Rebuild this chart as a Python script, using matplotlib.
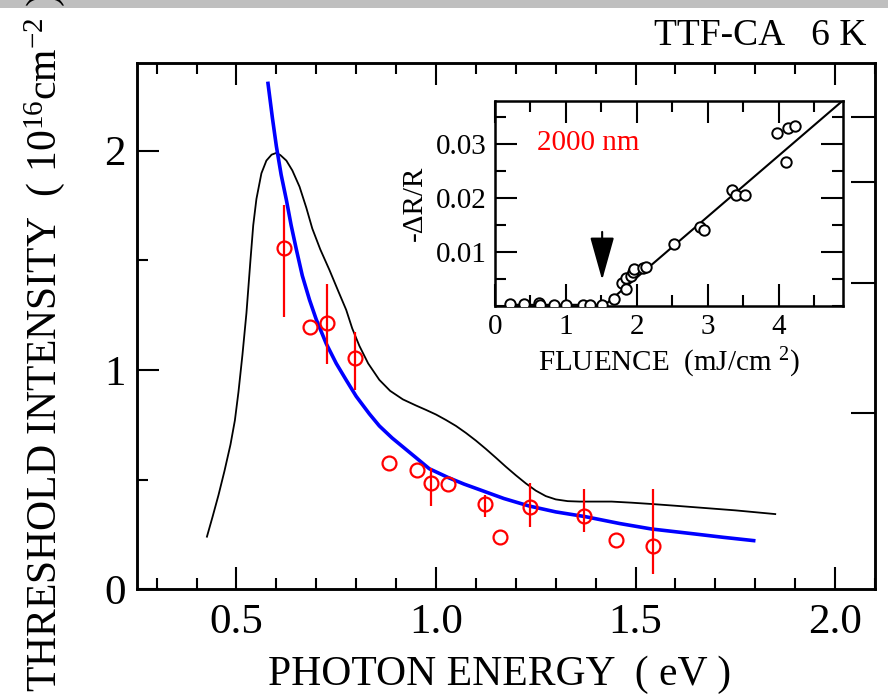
import numpy as np
import matplotlib
matplotlib.use("Agg")
import matplotlib.pyplot as plt
from matplotlib.ticker import MultipleLocator, FixedLocator, NullFormatter
from matplotlib.patches import Rectangle

plt.rcParams['font.family'] = ['Liberation Serif', 'DejaVu Serif']
plt.rcParams['mathtext.fontset'] = 'custom'
plt.rcParams['mathtext.rm'] = 'Liberation Serif'
plt.rcParams['mathtext.it'] = 'Liberation Serif:italic'
plt.rcParams['axes.unicode_minus'] = False

# ---------------- main panel data ----------------
theory_x = [0.426, 0.44, 0.455, 0.47, 0.485, 0.496, 0.505, 0.515, 0.525, 0.535, 0.542,
            0.55, 0.5625, 0.575, 0.588, 0.60, 0.61, 0.625, 0.64, 0.658, 0.675, 0.69,
            0.71, 0.733, 0.755, 0.775, 0.79, 0.808, 0.83, 0.858, 0.885, 0.917, 0.95,
            0.975, 1.0, 1.025, 1.05, 1.075, 1.10, 1.125, 1.15, 1.175, 1.20, 1.225,
            1.25, 1.275, 1.30, 1.33, 1.36, 1.40, 1.44, 1.49, 1.54, 1.60, 1.65, 1.75,
            1.85]
theory_y = [0.24, 0.33, 0.43, 0.54, 0.66, 0.77, 0.90, 1.07, 1.26, 1.50, 1.66,
            1.78, 1.897, 1.955, 1.982, 1.99, 1.98, 1.955, 1.91, 1.836, 1.74, 1.645,
            1.55, 1.456, 1.36, 1.274, 1.19, 1.11, 1.03, 0.955, 0.905, 0.866, 0.838,
            0.818, 0.797, 0.772, 0.745, 0.713, 0.678, 0.64, 0.60, 0.559, 0.52, 0.483,
            0.45, 0.425, 0.41, 0.402, 0.40, 0.40, 0.40, 0.395, 0.389, 0.381, 0.374, 0.36,
            0.343]

fit_x = [0.579, 0.59, 0.60, 0.612, 0.625, 0.637, 0.65, 0.665, 0.683, 0.70, 0.725,
         0.75, 0.775, 0.80, 0.833, 0.858, 0.89, 0.92, 0.95, 0.983, 1.03, 1.07, 1.108,
         1.17, 1.233, 1.30, 1.375, 1.46, 1.54, 1.65, 1.72, 1.796]
fit_y = [2.307, 2.15, 2.02, 1.89, 1.776, 1.66, 1.55, 1.43, 1.32, 1.23, 1.12,
         1.03, 0.954, 0.88, 0.80, 0.745, 0.69, 0.645, 0.60, 0.55, 0.51, 0.48, 0.455,
         0.414, 0.380, 0.353, 0.331, 0.30, 0.275, 0.252, 0.237, 0.222]

data_x = [0.618, 0.683, 0.727, 0.798, 0.882, 0.952, 0.987, 1.029, 1.123, 1.16,
          1.235, 1.372, 1.45, 1.543]
data_y = [1.558, 1.197, 1.213, 1.056, 0.575, 0.544, 0.483, 0.479, 0.389, 0.240,
          0.377, 0.336, 0.225, 0.199]
err_lo = [1.243, np.nan, 1.027, 0.909, np.nan, np.nan, 0.380, np.nan, 0.331, np.nan,
          0.285, 0.261, np.nan, 0.070]
err_hi = [1.752, np.nan, 1.392, 1.175, np.nan, np.nan, 0.552, np.nan, 0.430, np.nan,
          0.483, 0.456, np.nan, 0.456]

right_ticks = [0.803, 1.395, 1.859, 2.155]

# ---------------- inset data ----------------
flu_x = [0.21, 0.41, 0.62, 0.63, 0.83, 1.0, 1.24, 1.34, 1.51, 1.67, 1.79, 1.85, 1.85,
         1.91, 1.95, 1.96, 2.09, 2.13, 2.52, 2.89, 2.95, 3.34, 3.40, 3.52, 3.97,
         4.13, 4.23, 4.10]
flu_y = [0.0003, 0.0003, 0.0006, 0.0002, 0.0002, 0.0002, 0.0002, 0.0002, 0.0002,
         0.0013, 0.0043, 0.0032, 0.0051, 0.0055, 0.0063, 0.0069, 0.0071, 0.0072,
         0.0114, 0.0147, 0.0141, 0.0214, 0.0205, 0.0205, 0.0321, 0.0330, 0.0333,
         0.0266]
guide_x = [0.2, 1.55, 4.9]
guide_y = [0.0002, 0.0002, 0.038]

fig = plt.figure(figsize=(8.88, 7.0), dpi=100)

# gray band at top
fig.patches.append(Rectangle((0, 1 - 8 / 700), 1, 8 / 700, transform=fig.transFigure,
                             facecolor='#bfbfbf', edgecolor='none', zorder=0))

ax = fig.add_axes([136.7 / 888, 1 - 589.3 / 700, (875 - 136.7) / 888, (589.3 - 63) / 700])
ax.plot(theory_x, theory_y, color='black', lw=1.3, zorder=2, solid_joinstyle='round')
ax.plot(fit_x, fit_y, color='#0000ff', lw=2.6, zorder=3, solid_joinstyle='round')

dx = np.array(data_x); dy = np.array(data_y)
lo = np.array(err_lo); hi = np.array(err_hi)
m = ~np.isnan(lo)
ax.errorbar(dx[m], dy[m], yerr=[dy[m] - lo[m], hi[m] - dy[m]], fmt='none',
            ecolor='#ff0000', elinewidth=1.6, capsize=0, zorder=4)
ax.plot(dx, dy, 'o', ms=10, mfc='none', mec='#ff0000', mew=1.6, zorder=5)

ax.set_xlim(0.25, 2.1)
ax.set_ylim(0, 2.4)
ax.xaxis.set_major_locator(FixedLocator([0.5, 1.0, 1.5, 2.0]))
ax.xaxis.set_minor_locator(MultipleLocator(0.1))
ax.set_xticklabels(['0.5', '1.0', '1.5', '2.0'])
ax.yaxis.set_major_locator(FixedLocator([0, 1, 2]))
ax.yaxis.set_minor_locator(MultipleLocator(0.5))
ax.set_yticklabels(['0', '1', '2'])
ax.tick_params(which='both', direction='in', top=True, right=False, width=1.5,
               labelsize=31, colors='black')
ax.tick_params(which='major', length=16)
ax.tick_params(which='minor', length=8)
ax.tick_params(axis='x', pad=10)
ax.tick_params(axis='y', pad=8)
for s in ax.spines.values():
    s.set_linewidth(1.8)

ax2 = ax.twinx()
ax2.set_ylim(0, 2.4)
ax2.yaxis.set_major_locator(FixedLocator(right_ticks))
ax2.yaxis.set_major_formatter(NullFormatter())
ax2.tick_params(direction='in', length=17, width=1.5, right=True)
for s in ax2.spines.values():
    s.set_linewidth(1.8)

fig.text(500 / 888, 1 - 675 / 700, 'PHOTON ENERGY  ( eV )', ha='center', va='center',
         fontsize=30)
fig.text(45 / 888, 1 - 692 / 700,
         'THRESHOLD INTENSITY  ( 10$^{16}$cm$^{-2}$ )', rotation=90,
         ha='center', va='bottom', fontsize=30)
fig.text(866 / 888, 1 - 45 / 700, 'TTF-CA   6 K', ha='right', va='baseline', fontsize=27)

# ---------------- inset ----------------
axi = fig.add_axes([495 / 888, 1 - 305.9 / 700, (842.7 - 495) / 888, (305.9 - 100.7) / 700])
axi.plot(guide_x, guide_y, color='black', lw=1.5, zorder=2)
axi.plot(flu_x, flu_y, 'o', ms=7.5, mfc='white', mec='black', mew=1.4, zorder=3)
axi.annotate('', xy=(1.51, 0.0048), xytext=(1.51, 0.0137),
             arrowprops=dict(arrowstyle='-|>,head_length=1.0,head_width=0.28',
                             color='black', lw=1.5, mutation_scale=27, shrinkA=0, shrinkB=0))
axi.text(1.32, 0.0302, '2000 nm', color='#ff0000', fontsize=21, ha='center', va='center')
axi.set_xlim(0, 4.9)
axi.set_ylim(0, 0.038)
axi.xaxis.set_major_locator(FixedLocator([0, 1, 2, 3, 4]))
axi.xaxis.set_minor_locator(MultipleLocator(0.5))
axi.set_xticklabels(['0', '1', '2', '3', '4'])
axi.yaxis.set_major_locator(FixedLocator([0.01, 0.02, 0.03]))
axi.yaxis.set_minor_locator(MultipleLocator(0.005))
axi.set_yticklabels(['0.01', '0.02', '0.03'])
axi.tick_params(which='both', direction='in', top=True, right=True, width=1.5,
                labelsize=21)
axi.tick_params(which='major', length=16)
axi.tick_params(which='minor', length=8)
axi.tick_params(axis='x', pad=6)
axi.tick_params(axis='y', pad=6)
for s in axi.spines.values():
    s.set_linewidth(1.8)
axi.set_xlabel('FLUENCE  (mJ/cm $^{2}$)', fontsize=21, labelpad=4)
axi.set_ylabel('-ΔR/R', fontsize=21, labelpad=6)

fig.savefig('out.png', dpi=100)
